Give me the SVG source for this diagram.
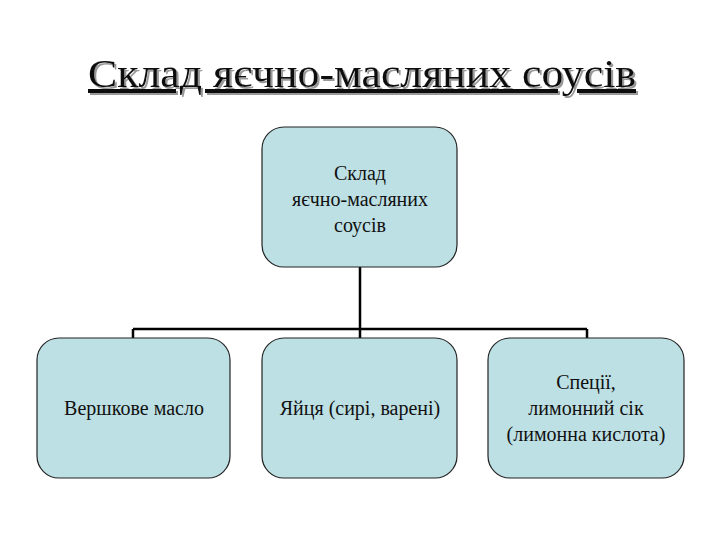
<svg xmlns="http://www.w3.org/2000/svg" width="720" height="540" viewBox="0 0 720 540">
<defs>
<filter id="sh" x="-5%" y="-20%" width="110%" height="140%">
<feOffset in="SourceAlpha" dx="2" dy="2" result="o"/>
<feFlood flood-color="#999"/><feComposite in2="o" operator="in" result="s"/>
<feMerge><feMergeNode in="s"/><feMergeNode in="SourceGraphic"/></feMerge>
</filter>
</defs>
<style>
.box{fill:#bde0e4;stroke:#222;stroke-width:1.2}
.t{font-family:"Liberation Serif","DejaVu Serif",Times,serif;font-size:20px;fill:#111;text-anchor:middle}
.h{font-family:"Liberation Serif","DejaVu Serif",Times,serif;font-size:40px;text-anchor:middle;text-decoration:underline}
.c{stroke:#000;stroke-width:2.5;fill:none}
</style>
<rect width="720" height="540" fill="#fff"/>
<g id="title">
<text class="h" x="362" y="87" fill="#111" filter="url(#sh)" textLength="548" lengthAdjust="spacingAndGlyphs">Склад яєчно-масляних соусів</text>
</g>
<g id="connectors">
<path class="c" d="M360 267V329M133 329H587M133 329V338M360 329V338M587 329V338"/>
</g>
<g id="root"><rect class="box" x="262" y="127" width="195" height="140" rx="22"/>
<text class="t" x="360" y="180">Склад</text><text class="t" x="360" y="206">яєчно-масляних</text><text class="t" x="360" y="232">соусів</text></g>
<g id="n1"><rect class="box" x="37" y="338" width="193" height="140" rx="22"/>
<text class="t" x="134" y="415">Вершкове масло</text></g>
<g id="n2"><rect class="box" x="262" y="338" width="195" height="140" rx="22"/>
<text class="t" x="360" y="415">Яйця (сирі, варені)</text></g>
<g id="n3"><rect class="box" x="488" y="338" width="196" height="140" rx="22"/>
<text class="t" x="586" y="389">Спеції,</text><text class="t" x="586" y="415">лимонний сік</text><text class="t" x="586" y="441">(лимонна кислота)</text></g>
</svg>
